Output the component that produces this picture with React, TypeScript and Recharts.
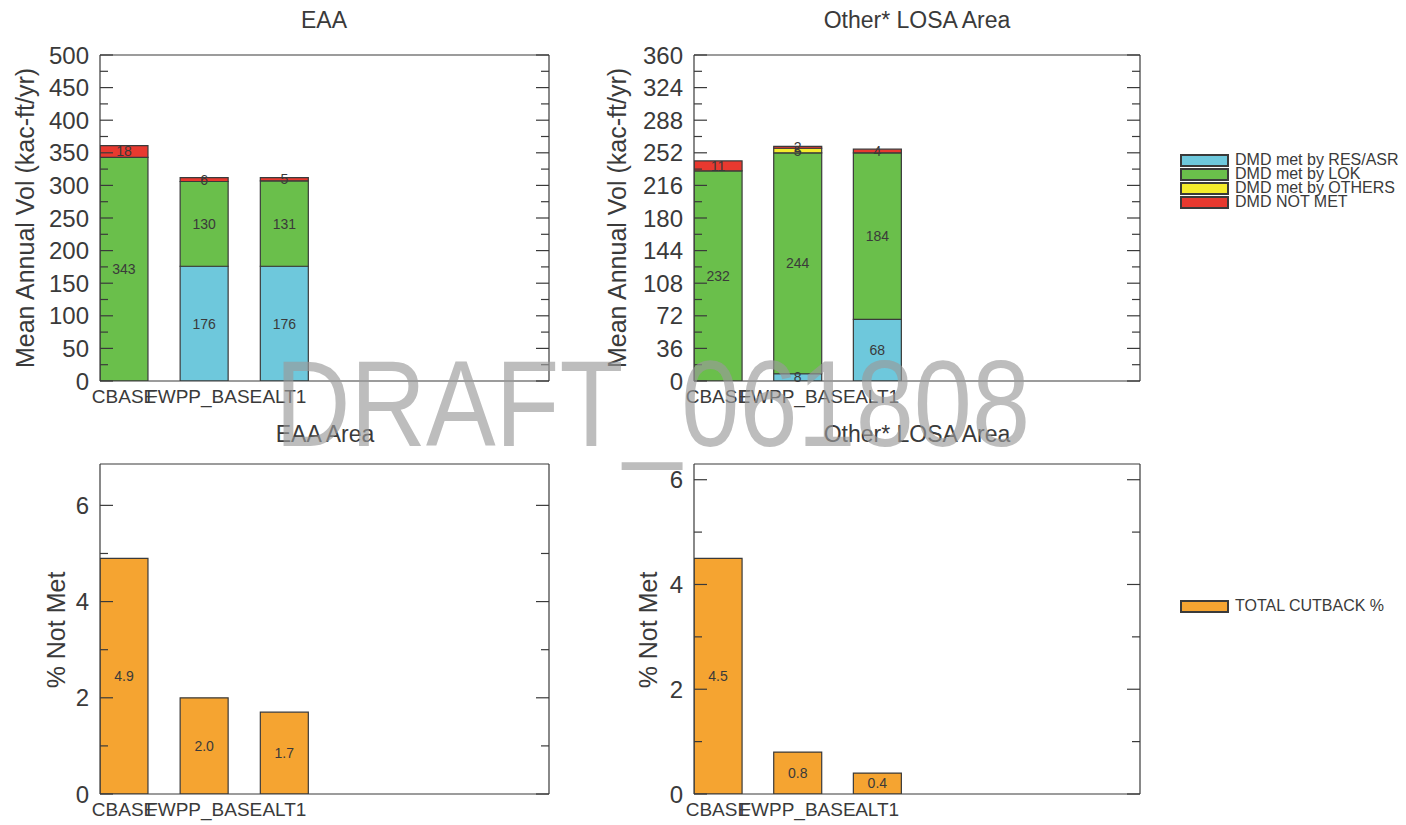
import React from 'react';
import { BarChart, Bar, XAxis, YAxis, LabelList, ReferenceLine } from 'recharts';

const categories = ['CBASE', 'FWPP_BASE', 'ALT1'];

const eaaResAsr = [0, 176, 176];
const eaaLok = [343, 130, 131];
const eaaOthers = [0, 0, 0];
const eaaNotMet = [18, 6, 5];

const losaResAsr = [0, 8, 68];
const losaLok = [232, 244, 184];
const losaOthers = [0, 5, 0];
const losaNotMet = [11, 2, 4];

const eaaCutback = [4.9, 2.0, 1.7];
const losaCutback = [4.5, 0.8, 0.4];

const eaaVolTicks = [0, 25, 50, 75, 100, 125, 150, 175, 200, 225, 250, 275, 300, 325, 350, 375, 400, 425, 450, 475, 500];
const losaVolTicks = [0, 18, 36, 54, 72, 90, 108, 126, 144, 162, 180, 198, 216, 234, 252, 270, 288, 306, 324, 342, 360];
const pctTicks = [0, 1, 2, 3, 4, 5, 6];

const seriesNames = ['DMD met by RES/ASR', 'DMD met by LOK', 'DMD met by OTHERS', 'DMD NOT MET'];
const seriesKeys = ['res', 'lok', 'oth', 'nm'];
const seriesColors = ['#6ec8dc', '#6abf4b', '#f4ec2c', '#e8392f'];
const cutbackName = 'TOTAL CUTBACK %';
const cutbackColor = '#f5a431';

const FONT = '"Liberation Sans", Arial, Helvetica, sans-serif';
const INK = '#3a3a3a';

function isMajorValue(v: number, major: number) {
  const r = v / major;
  return Math.abs(r - Math.round(r)) < 1e-6;
}

function leftTick(major: number, margin: number) {
  return (props: any) => {
    const { x, y, payload } = props;
    const v = payload.value;
    const maj = isMajorValue(v, major);
    const ax = x + margin;
    return (
      <g>
        <line x1={ax} x2={ax + (maj ? 13 : 8)} y1={y} y2={y} stroke={INK} strokeWidth={1.2} />
        {maj && (
          <text x={x} y={y} dy="0.36em" textAnchor="end" fontSize={24} fill={INK} fontFamily={FONT}>
            {v}
          </text>
        )}
      </g>
    );
  };
}

function rightTick(major: number) {
  return (props: any) => {
    const { x, y, payload } = props;
    const maj = isMajorValue(payload.value, major);
    return <line x1={x} x2={x - (maj ? 13 : 8)} y1={y} y2={y} stroke={INK} strokeWidth={1.2} />;
  };
}

type PanelProps = {
  left: number;
  top: number;
  width: number;
  height: number;
  plotLeft: number;
  plotRight: number;
  plotTop: number;
  plotBottom: number;
  max: number;
  ticks: number[];
  major: number;
  data: any[];
  children: React.ReactNode;
};

function Panel(p: PanelProps) {
  const xH = 30;
  const rW = 10;
  return (
    <div style={{ position: 'absolute', left: p.left, top: p.top }}>
      <BarChart
        width={p.width}
        height={p.height}
        data={p.data}
        margin={{ top: p.plotTop, right: p.width - p.plotRight - rW, bottom: p.height - p.plotBottom - xH, left: 0 }}
      >
        <XAxis
          dataKey="pos"
          type="number"
          domain={[0.7, 6.3]}
          ticks={[1, 2, 3]}
          tickFormatter={(v: number) => categories[v - 1]}
          interval={0}
          tickLine={false}
          tickSize={0}
          tickMargin={9}
          height={xH}
          allowDataOverflow
          axisLine={{ stroke: INK, strokeWidth: 1.2 }}
          tick={{ fontSize: 19, fill: INK, fontFamily: FONT }}
        />
        <YAxis
          yAxisId="L"
          type="number"
          domain={[0, p.max]}
          ticks={p.ticks}
          interval={0}
          width={p.plotLeft}
          tickSize={0}
          tickMargin={11}
          tickLine={false}
          allowDataOverflow
          axisLine={{ stroke: INK, strokeWidth: 1.2 }}
          tick={leftTick(p.major, 11)}
        />
        <YAxis
          yAxisId="R"
          orientation="right"
          type="number"
          domain={[0, p.max]}
          ticks={p.ticks}
          interval={0}
          width={rW}
          tickSize={0}
          tickMargin={0}
          tickLine={false}
          allowDataOverflow
          axisLine={{ stroke: INK, strokeWidth: 1.2 }}
          tick={rightTick(p.major)}
        />
        <ReferenceLine yAxisId="L" y={p.max} stroke={INK} strokeWidth={1.2} ifOverflow="extendDomain" />
        {p.children}
      </BarChart>
    </div>
  );
}

function volData(res: number[], lok: number[], oth: number[], nm: number[]) {
  return categories.map((name, i) => ({ pos: i + 1, name, res: res[i], lok: lok[i], oth: oth[i], nm: nm[i] }));
}

function pctData(vals: number[]) {
  return categories.map((name, i) => ({ pos: i + 1, name, pct: vals[i] }));
}

const labelStyle = { fontSize: 14, fill: INK, fontFamily: FONT };

function volBars() {
  return seriesKeys.map((k, i) => (
    <Bar
      key={k}
      yAxisId="L"
      dataKey={k}
      name={seriesNames[i]}
      stackId="s"
      fill={seriesColors[i]}
      stroke={INK}
      strokeWidth={1.2}
      barSize={48}
      isAnimationActive={false}
    >
      <LabelList
        dataKey={k}
        position="center"
        formatter={(v: any) => (v === 0 ? '' : v)}
        style={labelStyle}
      />
    </Bar>
  ));
}

function pctBar() {
  return (
    <Bar
      yAxisId="L"
      dataKey="pct"
      name={cutbackName}
      fill={cutbackColor}
      stroke={INK}
      strokeWidth={1.2}
      barSize={48}
      isAnimationActive={false}
    >
      <LabelList dataKey="pct" position="center" formatter={(v: any) => Number(v).toFixed(1)} style={labelStyle} />
    </Bar>
  );
}

function Title({ text, cx, cy }: { text: string; cx: number; cy: number }) {
  return (
    <div
      style={{
        position: 'absolute',
        left: cx - 200,
        top: cy - 14,
        width: 400,
        height: 28,
        lineHeight: '28px',
        textAlign: 'center',
        fontSize: 23,
        color: INK,
        fontFamily: FONT,
        whiteSpace: 'nowrap',
      }}
    >
      {text}
    </div>
  );
}

function YLabel({ text, cx, cy }: { text: string; cx: number; cy: number }) {
  return (
    <div
      style={{
        position: 'absolute',
        left: cx - 200,
        top: cy - 15,
        width: 400,
        height: 30,
        lineHeight: '30px',
        textAlign: 'center',
        fontSize: 25,
        color: INK,
        fontFamily: FONT,
        whiteSpace: 'nowrap',
        transform: 'rotate(-90deg)',
      }}
    >
      {text}
    </div>
  );
}

function LegendBox({ names, colors, left, top }: { names: string[]; colors: string[]; left: number; top: number }) {
  return (
    <div style={{ position: 'absolute', left, top, fontFamily: FONT, fontSize: 16, color: INK }}>
      {names.map((n, i) => (
        <div key={n} style={{ display: 'flex', alignItems: 'center', height: 14, whiteSpace: 'nowrap' }}>
          <span
            style={{
              display: 'inline-block',
              width: 45,
              height: 9,
              background: colors[i],
              border: `2px solid ${INK}`,
              marginRight: 6,
              boxSizing: 'content-box',
            }}
          />
          <span style={{ lineHeight: '14px' }}>{n}</span>
        </div>
      ))}
    </div>
  );
}

export default function App() {
  return (
    <div
      style={{
        position: 'absolute',
        left: 0,
        top: 0,
        width: 1406,
        height: 825,
        background: '#fff',
        overflow: 'hidden',
        fontFamily: FONT,
      }}
    >
      <Panel
        left={0}
        top={0}
        width={600}
        height={420}
        plotLeft={100}
        plotRight={549}
        plotTop={55}
        plotBottom={381}
        max={500}
        ticks={eaaVolTicks}
        major={50}
        data={volData(eaaResAsr, eaaLok, eaaOthers, eaaNotMet)}
      >
        {volBars()}
      </Panel>
      <Panel
        left={600}
        top={0}
        width={806}
        height={420}
        plotLeft={94}
        plotRight={540}
        plotTop={55}
        plotBottom={381}
        max={360}
        ticks={losaVolTicks}
        major={36}
        data={volData(losaResAsr, losaLok, losaOthers, losaNotMet)}
      >
        {volBars()}
      </Panel>
      <Panel
        left={0}
        top={420}
        width={600}
        height={405}
        plotLeft={100}
        plotRight={549}
        plotTop={44}
        plotBottom={374}
        max={6.86}
        ticks={pctTicks}
        major={2}
        data={pctData(eaaCutback)}
      >
        {pctBar()}
      </Panel>
      <Panel
        left={600}
        top={420}
        width={806}
        height={405}
        plotLeft={94}
        plotRight={540}
        plotTop={44}
        plotBottom={374}
        max={6.3}
        ticks={pctTicks}
        major={2}
        data={pctData(losaCutback)}
      >
        {pctBar()}
      </Panel>

      <Title text="EAA" cx={324} cy={20} />
      <Title text="Other* LOSA Area" cx={917} cy={20} />
      <Title text="EAA Area" cx={325} cy={434} />
      <Title text="Other* LOSA Area" cx={917} cy={434} />

      <YLabel text="Mean Annual Vol (kac-ft/yr)" cx={25} cy={218} />
      <YLabel text="Mean Annual Vol (kac-ft/yr)" cx={617} cy={218} />
      <YLabel text="% Not Met" cx={56} cy={630} />
      <YLabel text="% Not Met" cx={648} cy={630} />

      <LegendBox names={seriesNames} colors={seriesColors} left={1180} top={153} />
      <LegendBox names={[cutbackName]} colors={[cutbackColor]} left={1180} top={599} />

      <svg
        width={1406}
        height={825}
        style={{ position: 'absolute', left: 0, top: 0, pointerEvents: 'none' }}
      >
        <text
          x={275}
          y={446}
          fontSize={123}
          fontFamily={FONT}
          fill="#9a9a9a"
          fillOpacity={0.65}
          textLength={755}
          lengthAdjust="spacingAndGlyphs"
        >
          DRAFT_061808
        </text>
      </svg>
    </div>
  );
}
